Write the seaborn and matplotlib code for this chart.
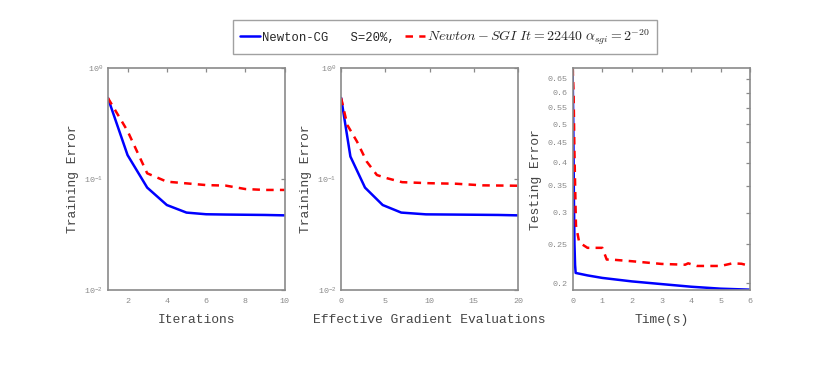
import numpy as np
import pandas as pd
import matplotlib
matplotlib.use("Agg")
import matplotlib.pyplot as plt
import matplotlib.ticker as mticker
from matplotlib.lines import Line2D
import seaborn as sns

# ---- data ----
iters = [1, 2, 3, 4, 5, 6, 7, 8, 9, 10]
cg_train_it = [0.54, 0.165, 0.084, 0.0585, 0.050, 0.0483, 0.0480, 0.0478, 0.0476, 0.0472]
sgi_train_it = [0.54, 0.272, 0.113, 0.095, 0.0917, 0.0885, 0.0875, 0.0815, 0.080, 0.080]

cg_evals = [0, 1.05, 2.7, 4.7, 6.8, 9.6, 12.4, 15.2, 17.8, 20]
cg_train_ev = [0.54, 0.16, 0.084, 0.0585, 0.050, 0.0482, 0.0480, 0.0478, 0.0476, 0.0472]
sgi_evals = [0, 0.7, 1.8, 2.9, 4.05, 5.2, 6.9, 10, 13, 16, 20]
sgi_train_ev = [0.54, 0.308, 0.218, 0.144, 0.109, 0.102, 0.094, 0.092, 0.091, 0.088, 0.0873]

cg_time = [0, 0.02, 0.04, 0.06, 0.08, 0.1, 0.5, 1, 2, 3, 4, 5, 6]
cg_test = [0.66, 0.5, 0.33, 0.25, 0.222, 0.212, 0.209, 0.206, 0.2019, 0.1988, 0.1958, 0.1936, 0.1925]
sgi_time = [0, 0.03, 0.06, 0.11, 0.22, 0.5, 1.0, 1.15, 1.3, 2, 3, 3.8, 3.9, 4.2, 5, 5.4, 5.7, 6]
sgi_test = [0.69, 0.6, 0.42, 0.279, 0.2527, 0.245, 0.245, 0.229, 0.229, 0.2268, 0.2233, 0.2223, 0.2241, 0.2207, 0.2207, 0.2241, 0.2235, 0.2207]

legend_cg = "Newton-CG   S=20%,"
legend_sgi = r"$Newton-SGI\ It=22440\ \alpha_{sgi}=2^{-20}$"

sns.set_style("white")
plt.rcParams['font.family'] = ['Liberation Mono', 'DejaVu Sans']
plt.rcParams['mathtext.fontset'] = 'cm'

GRAY = "#8a8a8a"
TXT = "#444444"
BLUE = "#0000ff"
RED = "#ff0000"
LW = 1.8
DASH = (0, (3, 2.5))

fig = plt.figure(figsize=(8.30, 3.71), dpi=100)
positions = [[0.130, 0.218, 0.213, 0.598],
             [0.411, 0.218, 0.213, 0.598],
             [0.690, 0.218, 0.214, 0.598]]
axes = [fig.add_axes(p) for p in positions]


def style(ax):
    for s in ax.spines.values():
        s.set_color(GRAY)
        s.set_linewidth(1.2)
    ax.tick_params(which='both', direction='in', top=True, right=True,
                   color=GRAY, labelcolor=GRAY, labelsize=6, length=3, width=0.9)
    ax.tick_params(axis='x', pad=6)
    ax.tick_params(which='minor', length=0)
    ax.xaxis.labelpad = 6


# panel 1
ax = axes[0]
sns.lineplot(x=iters, y=cg_train_it, ax=ax, color=BLUE, lw=LW)
sns.lineplot(x=iters, y=sgi_train_it, ax=ax, color=RED, lw=LW, linestyle=DASH)
ax.set_yscale('log')
ax.set_xlim(1, 10)
ax.set_ylim(0.01, 1)
ax.set_xticks([2, 4, 6, 8, 10])
ax.set_xlabel("Iterations", fontsize=9.4, color=TXT)
ax.set_ylabel("Training Error", fontsize=9.4, color=TXT)
style(ax)

# panel 2
ax = axes[1]
sns.lineplot(x=cg_evals, y=cg_train_ev, ax=ax, color=BLUE, lw=LW)
sns.lineplot(x=sgi_evals, y=sgi_train_ev, ax=ax, color=RED, lw=LW, linestyle=DASH)
ax.set_yscale('log')
ax.set_xlim(0, 20)
ax.set_ylim(0.01, 1)
ax.set_xticks([0, 5, 10, 15, 20])
ax.set_xlabel("Effective Gradient Evaluations", fontsize=9.4, color=TXT)
ax.set_ylabel("Training Error", fontsize=9.4, color=TXT)
style(ax)

# panel 3
ax = axes[2]
sns.lineplot(x=cg_time, y=cg_test, ax=ax, color=BLUE, lw=LW)
sns.lineplot(x=sgi_time, y=sgi_test, ax=ax, color=RED, lw=LW, linestyle=DASH)
ax.set_yscale('log')
ax.set_xlim(0, 6)
ax.set_ylim(0.192, 0.69)
ax.set_xticks([0, 1, 2, 3, 4, 5, 6])
yt = [0.2, 0.25, 0.3, 0.35, 0.4, 0.45, 0.5, 0.55, 0.6, 0.65]
ax.yaxis.set_major_locator(mticker.FixedLocator(yt))
ax.yaxis.set_major_formatter(mticker.FixedFormatter([f"{v:g}" for v in yt]))
ax.yaxis.set_minor_locator(mticker.NullLocator())
ax.set_xlabel("Time(s)", fontsize=9.4, color=TXT)
ax.set_ylabel("Testing Error", fontsize=9.4, color=TXT)
style(ax)

handles = [Line2D([], [], color=BLUE, lw=LW),
           Line2D([], [], color=RED, lw=LW, linestyle=DASH)]
leg = fig.legend(handles, [legend_cg, legend_sgi], loc='center',
                 bbox_to_anchor=(0.536, 0.90), ncol=2, fontsize=8.8,
                 frameon=True, fancybox=False, handlelength=1.65,
                 handletextpad=0.2, columnspacing=0.8, borderpad=0.55)
leg.get_texts()[1].set_fontsize(10)
leg.get_frame().set_edgecolor(GRAY)
leg.get_frame().set_linewidth(1.0)

fig.savefig("out.png", dpi=100)
